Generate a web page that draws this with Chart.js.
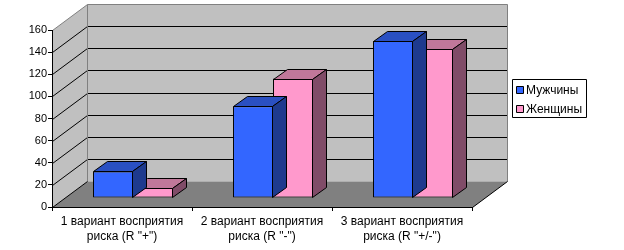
<!DOCTYPE html>
<html>
<head>
<meta charset="utf-8">
<script src="https://cdn.jsdelivr.net/npm/chart.js@4.4.1/dist/chart.umd.min.js"></script>
<style>
  body { margin: 0; background: #fff; }
  canvas { display: block; }
</style>
</head>
<body>
<canvas id="riskChart" width="624" height="250"></canvas>
<script>
const categories = [
  ['1 вариант восприятия', 'риска (R "+")'],
  ['2 вариант восприятия', 'риска (R "-")'],
  ['3 вариант восприятия', 'риска (R "+/-")']
]
const menValues = [24, 83, 142]
const womenValues = [9, 108, 135]
const seriesLabels = ['Мужчины', 'Женщины']
const yMax = 160
const yStep = 20

// 3D look (Excel style oblique projection)
const wallDepth = { dx: 35, dy: -26 }
const barOffset = { dx: 11, dy: -9 }
const barDepth = { dx: 14, dy: -10 }
const shades = [
  { front: '#3366FF', top: '#2A50C2', side: '#1E3A8E' },
  { front: '#FF99CC', top: '#C0789A', side: '#804C68' }
]

const fontFamily = 'Arial, "Liberation Sans", sans-serif'

function poly(ctx, pts, fill, stroke) {
  ctx.beginPath()
  ctx.moveTo(pts[0][0], pts[0][1])
  for (let i = 1; i < pts.length; i++) ctx.lineTo(pts[i][0], pts[i][1])
  ctx.closePath()
  if (fill) {
    ctx.fillStyle = fill
    ctx.fill()
  }
  if (stroke) {
    ctx.strokeStyle = stroke
    ctx.lineWidth = 1
    ctx.stroke()
  }
}

const excel3d = {
  id: 'excel3d',
  beforeDraw(chart) {
    // walls, floor and back gridlines
    const ctx = chart.ctx
    const yScale = chart.scales.y
    const xScale = chart.scales.x
    const L = xScale.left + 0.5
    const R = xScale.right + 0.5
    const y0 = Math.round(yScale.getPixelForValue(0)) + 0.5
    const yTop = Math.round(yScale.getPixelForValue(yMax)) + 0.5
    const dx = wallDepth.dx
    const dy = wallDepth.dy
    ctx.save()
    // back wall
    poly(ctx, [[L + dx, yTop + dy], [R + dx, yTop + dy], [R + dx, y0 + dy], [L + dx, y0 + dy]], '#C0C0C0', null)
    // side wall
    poly(ctx, [[L, yTop], [L + dx, yTop + dy], [L + dx, y0 + dy], [L, y0]], '#C0C0C0', null)
    // floor
    poly(ctx, [[L, y0], [R, y0], [R + dx, y0 + dy], [L + dx, y0 + dy]], '#808080', null)
    // gridlines
    ctx.strokeStyle = '#000'
    ctx.lineWidth = 1
    for (let v = yStep; v < yMax; v += yStep) {
      const y = Math.round(yScale.getPixelForValue(v)) + 0.5
      ctx.beginPath()
      ctx.moveTo(L, y)
      ctx.lineTo(L + dx, y + dy)
      ctx.lineTo(R + dx, y + dy)
      ctx.stroke()
    }
    // wall borders
    ctx.strokeStyle = '#808080'
    ctx.beginPath()
    ctx.moveTo(L, yTop)
    ctx.lineTo(L + dx, yTop + dy)
    ctx.lineTo(R + dx, yTop + dy)
    ctx.lineTo(R + dx, y0 + dy)
    ctx.moveTo(L + dx, yTop + dy)
    ctx.lineTo(L + dx, y0 + dy)
    ctx.stroke()
    ctx.strokeStyle = '#000'
    ctx.beginPath()
    ctx.moveTo(L, y0)
    ctx.lineTo(L + dx, y0 + dy)
    ctx.moveTo(R, y0)
    ctx.lineTo(R + dx, y0 + dy)
    ctx.stroke()
    ctx.restore()
  },
  beforeDatasetDraw(chart) {
    chart.ctx.save()
    chart.ctx.translate(barOffset.dx, barOffset.dy)
  },
  afterDatasetDraw(chart, args) {
    const ctx = chart.ctx
    const shade = shades[args.index]
    args.meta.data.forEach((bar) => {
      const l = Math.round(bar.x - bar.width / 2) + 0.5
      const r = Math.round(bar.x + bar.width / 2) - 0.5
      const t = Math.round(bar.y) + 0.5
      const b = Math.round(bar.base) - 0.5
      const dx = barDepth.dx
      const dy = barDepth.dy
      poly(ctx, [[l, t], [r, t], [r + dx, t + dy], [l + dx, t + dy]], shade.top, '#000')
      poly(ctx, [[r, t], [r + dx, t + dy], [r + dx, b + dy], [r, b]], shade.side, '#000')
    })
    ctx.restore()
  },
  afterDraw(chart) {
    // legend box
    const ctx = chart.ctx
    ctx.save()
    poly(ctx, [[512.5, 79.5], [586.5, 79.5], [586.5, 117.5], [512.5, 117.5]], '#fff', '#000')
    ctx.font = '12px ' + fontFamily
    ctx.textBaseline = 'middle'
    ctx.textAlign = 'left'
    chart.data.datasets.forEach((ds, i) => {
      const yc = 90 + i * 19
      poly(ctx, [[516.5, yc - 3.5], [523.5, yc - 3.5], [523.5, yc + 3.5], [516.5, yc + 3.5]], ds.backgroundColor, '#000')
      ctx.fillStyle = '#000'
      ctx.fillText(ds.label, 526, yc + 0.5)
    })
    ctx.restore()
  }
}

new Chart(document.getElementById('riskChart'), {
  type: 'bar',
  plugins: [excel3d],
  data: {
    labels: categories,
    datasets: [
      {
        label: seriesLabels[0],
        data: menValues,
        backgroundColor: shades[0].front,
        borderColor: '#000',
        borderWidth: 1,
        borderSkipped: false
      },
      {
        label: seriesLabels[1],
        data: womenValues,
        backgroundColor: shades[1].front,
        borderColor: '#000',
        borderWidth: 1,
        borderSkipped: false
      }
    ]
  },
  options: {
    responsive: false,
    animation: false,
    devicePixelRatio: 1,
    layout: {
      padding: { top: 30, right: 152, bottom: 0, left: 0 }
    },
    datasets: {
      bar: {
        categoryPercentage: 0.571,
        barPercentage: 1,
        clip: false
      }
    },
    plugins: {
      legend: { display: false },
      tooltip: { enabled: false },
      title: { display: false }
    },
    scales: {
      x: {
        offset: true,
        grid: {
          offset: true,
          drawOnChartArea: false,
          drawTicks: true,
          tickLength: 4,
          color: '#000'
        },
        border: { display: true, color: '#000' },
        ticks: {
          color: '#000',
          padding: 3,
          maxRotation: 0,
          autoSkip: false,
          font: { family: fontFamily, size: 12, lineHeight: 1.25 }
        },
        afterFit: function (scale) {
          scale.height = 43
        }
      },
      y: {
        min: 0,
        max: yMax,
        grid: {
          drawOnChartArea: false,
          drawTicks: true,
          tickLength: 4,
          color: '#000'
        },
        border: { display: true, color: '#000' },
        ticks: {
          stepSize: yStep,
          color: '#000',
          padding: 1,
          font: { family: fontFamily, size: 11 }
        },
        afterFit: function (scale) {
          scale.width = 52
        }
      }
    }
  }
})
</script>
</body>
</html>
